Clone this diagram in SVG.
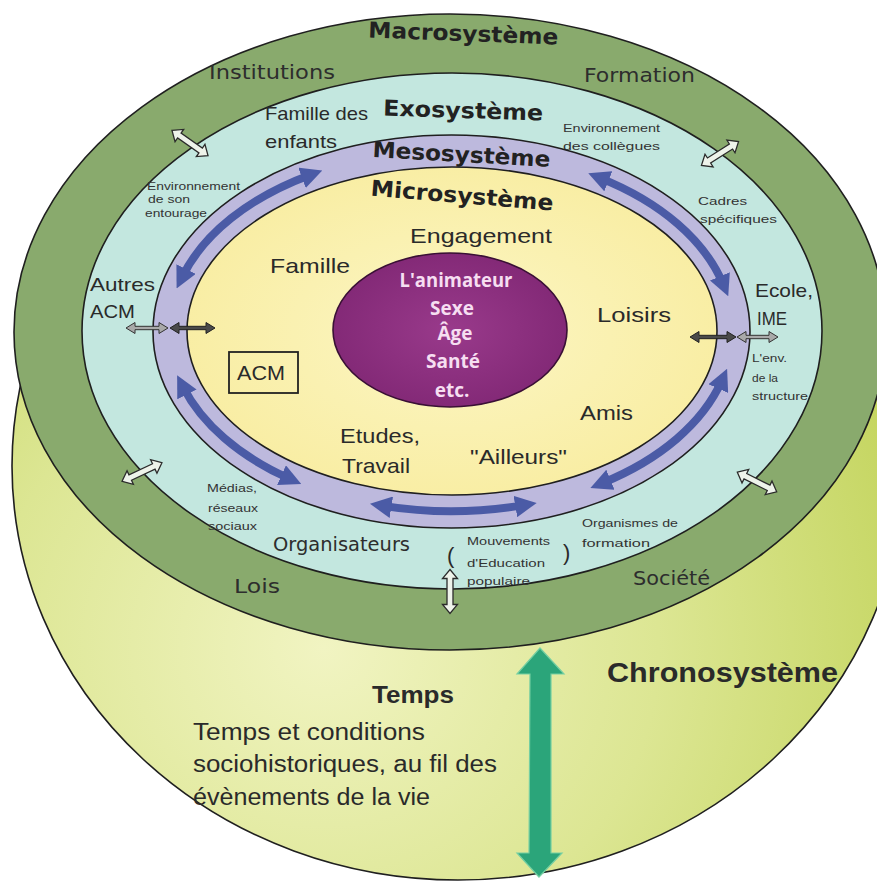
<svg xmlns="http://www.w3.org/2000/svg" width="877" height="883" viewBox="0 0 877 883">
<defs>
<style>
.ring{stroke:#1f1f1f;stroke-width:1.6}
.t{font-family:"Liberation Sans",Arial,sans-serif;fill:#2a2a2a}
.v{font-family:"DejaVu Sans",Verdana,sans-serif;fill:#2d2d2d}
.title{font-family:"DejaVu Sans",Verdana,sans-serif;font-weight:bold;fill:#222;font-size:22px}
.s{font-family:"Liberation Sans",Arial,sans-serif;fill:#333;font-size:11px}
.c{font-family:"Open Sans","Noto Sans",sans-serif;font-weight:bold;fill:#f6def1;font-size:19px;text-anchor:middle}
.blue{fill:none;stroke:#4b5ba6;stroke-width:8;marker-start:url(#bh);marker-end:url(#bh)}
.hollow{fill:#eef3ea;stroke:#2b2b2b;stroke-width:1.3}
.dk{fill:#4a4a4a;stroke:#222;stroke-width:1}
.lt{fill:#a9a9a9;stroke:#333;stroke-width:1}
</style>
<radialGradient id="limeG" cx="0.35" cy="0.72" r="0.75">
<stop offset="0" stop-color="#f1f4c2"/>
<stop offset="0.5" stop-color="#dce693"/>
<stop offset="1" stop-color="#c0d256"/>
</radialGradient>
<radialGradient id="microG" cx="0.5" cy="0.5" r="0.6">
<stop offset="0" stop-color="#fcf6c4"/>
<stop offset="1" stop-color="#f8ec9e"/>
</radialGradient>
<radialGradient id="purpleG" cx="0.5" cy="0.5" r="0.6">
<stop offset="0" stop-color="#993a8b"/>
<stop offset="1" stop-color="#7f2673"/>
</radialGradient>
<marker id="bh" viewBox="0 0 10 10" refX="4" refY="5" markerWidth="2.7" markerHeight="2.7" orient="auto-start-reverse" markerUnits="strokeWidth">
<path d="M0,0 L10,5 L0,10 z" fill="#4b5ba6"/>
</marker>
<path id="ha" class="hollow" d="M-22,0 L-13,-7.5 L-13,-3 L13,-3 L13,-7.5 L22,0 L13,7.5 L13,3 L-13,3 L-13,7.5 Z"/>
</defs>

<g id="chronosysteme">
<ellipse cx="458" cy="466" rx="446" ry="414" fill="url(#limeG)" class="ring"/>
</g>

<g id="macrosysteme">
<ellipse cx="450" cy="332" rx="436" ry="318" fill="#89aa6d" class="ring"/>
<text class="title" x="368" y="41" textLength="190" lengthAdjust="spacingAndGlyphs" transform="rotate(2.1 463 41)">Macrosystème</text>
<text class="v" x="209" y="79" font-size="19" textLength="126" lengthAdjust="spacingAndGlyphs">Institutions</text>
<text class="v" x="584" y="82" font-size="19" textLength="111" lengthAdjust="spacingAndGlyphs">Formation</text>
<text class="v" x="234" y="593" font-size="20" textLength="46" lengthAdjust="spacingAndGlyphs">Lois</text>
<text class="v" x="633" y="585" font-size="20" textLength="77" lengthAdjust="spacingAndGlyphs">Société</text>
</g>

<g id="exosysteme">
<ellipse cx="452" cy="331" rx="370" ry="258" fill="#c3e7df" class="ring"/>
<text class="title" x="383" y="118" textLength="160" lengthAdjust="spacingAndGlyphs" transform="rotate(1.8 463 118)">Exosystème</text>
<text class="t" x="265" y="120" font-size="19" textLength="103" lengthAdjust="spacingAndGlyphs">Famille des</text>
<text class="t" x="265" y="148" font-size="19" textLength="72" lengthAdjust="spacingAndGlyphs">enfants</text>
<text class="s" x="563" y="132" textLength="97" lengthAdjust="spacingAndGlyphs">Environnement</text>
<text class="s" x="563" y="150" textLength="97" lengthAdjust="spacingAndGlyphs">des collègues</text>
<text class="s" x="147" y="190" textLength="93" lengthAdjust="spacingAndGlyphs">Environnement</text>
<text class="s" x="148" y="203" textLength="42" lengthAdjust="spacingAndGlyphs">de son</text>
<text class="s" x="145" y="217" textLength="62" lengthAdjust="spacingAndGlyphs">entourage</text>
<text class="t" x="90" y="291" font-size="19" textLength="65" lengthAdjust="spacingAndGlyphs">Autres</text>
<text class="t" x="90" y="318" font-size="19" textLength="45" lengthAdjust="spacingAndGlyphs">ACM</text>
<text class="s" x="698" y="205" font-size="12" textLength="49" lengthAdjust="spacingAndGlyphs">Cadres</text>
<text class="s" x="700" y="223" font-size="12" textLength="77" lengthAdjust="spacingAndGlyphs">spécifiques</text>
<text class="t" x="755" y="297" font-size="19" textLength="58" lengthAdjust="spacingAndGlyphs">Ecole,</text>
<text class="t" x="757" y="325" font-size="19" textLength="30" lengthAdjust="spacingAndGlyphs">IME</text>
<text class="s" x="752" y="362" textLength="35" lengthAdjust="spacingAndGlyphs">L'env.</text>
<text class="s" x="752" y="382" textLength="26" lengthAdjust="spacingAndGlyphs">de la</text>
<text class="s" x="752" y="400" textLength="56" lengthAdjust="spacingAndGlyphs">structure</text>
<text class="s" x="207" y="492" textLength="50" lengthAdjust="spacingAndGlyphs">Médias,</text>
<text class="s" x="208" y="512" textLength="50" lengthAdjust="spacingAndGlyphs">réseaux</text>
<text class="s" x="208" y="530" textLength="49" lengthAdjust="spacingAndGlyphs">sociaux</text>
<text class="v" x="273" y="551" font-size="19" textLength="137" lengthAdjust="spacingAndGlyphs">Organisateurs</text>
<text class="t" x="447" y="563" font-size="22">(</text>
<text class="t" x="563" y="560" font-size="22">)</text>
<text class="s" x="467" y="545" textLength="83" lengthAdjust="spacingAndGlyphs">Mouvements</text>
<text class="s" x="467" y="567" textLength="78" lengthAdjust="spacingAndGlyphs">d'Education</text>
<text class="s" x="467" y="585" textLength="63" lengthAdjust="spacingAndGlyphs">populaire</text>
<text class="s" x="582" y="527" textLength="96" lengthAdjust="spacingAndGlyphs">Organismes de</text>
<text class="s" x="582" y="547" textLength="68" lengthAdjust="spacingAndGlyphs">formation</text>
</g>

<g id="mesosysteme">
<ellipse cx="451.5" cy="331.5" rx="298.5" ry="196.5" fill="#bdb9dd" class="ring"/>
<text class="title" x="372" y="162" textLength="178" lengthAdjust="spacingAndGlyphs" transform="rotate(3.2 461 162)">Mesosystème</text>
</g>

<g id="microsysteme">
<ellipse cx="452" cy="331" rx="265" ry="164" fill="url(#microG)" class="ring"/>
<text class="title" x="370" y="203" textLength="183" lengthAdjust="spacingAndGlyphs" transform="rotate(4.7 461 203)">Microsystème</text>
<text class="t" x="410" y="243" font-size="21" textLength="142" lengthAdjust="spacingAndGlyphs">Engagement</text>
<text class="t" x="270" y="273" font-size="21" textLength="80" lengthAdjust="spacingAndGlyphs">Famille</text>
<text class="t" x="597" y="322" font-size="21" textLength="74" lengthAdjust="spacingAndGlyphs">Loisirs</text>
<text class="t" x="580" y="420" font-size="21" textLength="53" lengthAdjust="spacingAndGlyphs">Amis</text>
<text class="t" x="340" y="443" font-size="21" textLength="80" lengthAdjust="spacingAndGlyphs">Etudes,</text>
<text class="t" x="342" y="473" font-size="21" textLength="68" lengthAdjust="spacingAndGlyphs">Travail</text>
<text class="t" x="470" y="464" font-size="21" textLength="97" lengthAdjust="spacingAndGlyphs">"Ailleurs"</text>
</g>

<g id="acm">
<rect x="229" y="352" width="69" height="41" fill="none" stroke="#222" stroke-width="1.8"/>
<text class="t" x="237" y="380" font-size="21" textLength="48" lengthAdjust="spacingAndGlyphs">ACM</text>
</g>

<g id="animateur">
<ellipse cx="450" cy="330" rx="117" ry="77" fill="url(#purpleG)" stroke="#3a1035" stroke-width="1.6"/>
<text class="c" x="456" y="287" textLength="113" lengthAdjust="spacingAndGlyphs">L'animateur</text>
<text class="c" x="452" y="315">Sexe</text>
<text class="c" x="455" y="340">Âge</text>
<text class="c" x="453" y="368">Santé</text>
<text class="c" x="452" y="397">etc.</text>
</g>

<g id="temps">
<text class="t" x="607" y="682" font-size="27" font-weight="bold" fill="#1e1e1e" textLength="231" lengthAdjust="spacingAndGlyphs">Chronosystème</text>
<text class="t" x="372" y="703" font-size="23" font-weight="bold" fill="#1e1e1e" textLength="82" lengthAdjust="spacingAndGlyphs">Temps</text>
<text class="t" x="193" y="740" font-size="23" textLength="232" lengthAdjust="spacingAndGlyphs">Temps et conditions</text>
<text class="t" x="193" y="772" font-size="23" textLength="304" lengthAdjust="spacingAndGlyphs">sociohistoriques, au fil des</text>
<text class="t" x="193" y="805" font-size="23" textLength="237" lengthAdjust="spacingAndGlyphs">évènements de la vie</text>
</g>

<g id="connectors">
<path class="blue" d="M182.3,276.8 A281.75,180.25 0 0 1 310.1,174.9"/>
<path class="blue" d="M600.3,178.1 A281.75,180.25 0 0 1 723.2,284.3"/>
<path class="blue" d="M289.4,478.7 A281.75,180.25 0 0 1 183.0,386.7"/>
<path class="blue" d="M523.9,505.1 A281.75,180.25 0 0 1 382.8,505.9"/>
<path class="blue" d="M721.8,380.7 A281.75,180.25 0 0 1 602.4,483.0"/>
<polygon class="lt" points="126,328 135,322.5 135,326.3 159,326.3 159,322.5 168,328 159,333.5 159,329.7 135,329.7 135,333.5"/>
<polygon class="dk" points="170,328 179,322.5 179,326.3 206,326.3 206,322.5 215,328 206,333.5 206,329.7 179,329.7 179,333.5"/>
<polygon class="dk" points="690,337 699,331.5 699,335.3 727,335.3 727,331.5 736,337 727,342.5 727,338.7 699,338.7 699,342.5"/>
<polygon class="lt" points="737,337 746,331.5 746,335.3 769,335.3 769,331.5 778,337 769,342.5 769,338.7 746,338.7 746,342.5"/>
<use href="#ha" transform="translate(190,143) rotate(35)"/>
<use href="#ha" transform="translate(720,153.5) rotate(-32.6)"/>
<use href="#ha" transform="translate(142,472) rotate(-25)"/>
<use href="#ha" transform="translate(757,482) rotate(26.6)"/>
<use href="#ha" transform="translate(450,591.5) rotate(90)"/>
<polygon points="540,648 564,674 551,674 551,853 562,853 539,877 517,853 529,853 530,674 517,674" fill="#2ba57a" stroke="#74cfa2" stroke-width="1.2"/>
</g>
</svg>
